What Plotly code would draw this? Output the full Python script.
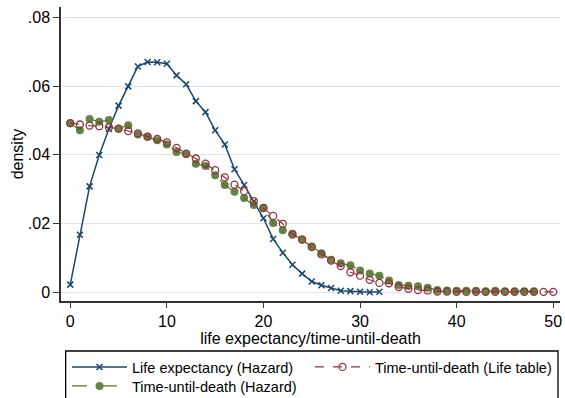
import plotly.graph_objects as go

# ---- data ----
x_le = list(range(0, 33))
y_le = [0.0022, 0.0167, 0.0308, 0.0399, 0.0475, 0.0543, 0.0599, 0.0657, 0.0670, 0.0669,
        0.0665, 0.0631, 0.0605, 0.0556, 0.0524, 0.0471, 0.0430, 0.0358, 0.0312, 0.0264,
        0.0215, 0.0155, 0.0115, 0.0080, 0.0054, 0.0031, 0.0020, 0.0012, 0.0004, 0.0003,
        0.0001, 0.0000, 0.0001]

x_lt = list(range(0, 51))
y_lt = [0.0492, 0.0488, 0.0485, 0.0483, 0.0480, 0.0476, 0.0469, 0.0462, 0.0453, 0.0446,
        0.0436, 0.0420, 0.0403, 0.0389, 0.0374, 0.0355, 0.0334, 0.0313, 0.0294, 0.0265,
        0.0245, 0.0222, 0.0199, 0.0168, 0.0153, 0.0131, 0.0110, 0.0092, 0.0076, 0.0058,
        0.0048, 0.0036, 0.0027, 0.0026, 0.0015, 0.0010, 0.0006, 0.0005, 0.0002, 0.0002,
        0.0001, 0.0001, 0.0001, 0.0001, 0.0001, 0.0001, 0.0001, 0.0001, 0.0001, 0.0001,
        0.0001]

x_hz = list(range(0, 49))
y_hz = [0.0492, 0.0471, 0.0504, 0.0496, 0.0501, 0.0476, 0.0486, 0.0459, 0.0452, 0.0442,
        0.0430, 0.0408, 0.0402, 0.0374, 0.0367, 0.0340, 0.0312, 0.0292, 0.0274, 0.0254,
        0.0245, 0.0201, 0.0180, 0.0170, 0.0153, 0.0133, 0.0113, 0.0094, 0.0084, 0.0078,
        0.0063, 0.0054, 0.0048, 0.0034, 0.0021, 0.0019, 0.0017, 0.0013, 0.0006, 0.0005,
        0.0004, 0.0004, 0.0004, 0.0003, 0.0004, 0.0003, 0.0003, 0.0003, 0.0003]

x_ticks = [0, 10, 20, 30, 40, 50]
y_ticks = [0, 0.02, 0.04, 0.06, 0.08]
y_ticktext = ["0", ".02", ".04", ".06", ".08"]

NAVY = "#1a476f"
MAROON = "#90353b"
GREEN = "#55752f"

fig = go.Figure()
fig.add_trace(go.Scatter(
    x=x_le, y=y_le, mode="lines+markers", name="Life expectancy (Hazard)",
    line=dict(color=NAVY, width=1.5),
    marker=dict(symbol="x-thin", size=6, line=dict(color=NAVY, width=1.5)),
    legend="legend", legendrank=1))
fig.add_trace(go.Scatter(
    x=x_hz, y=y_hz, mode="lines+markers", name="Time-until-death (Hazard)",
    line=dict(color=GREEN, width=1.2, dash="longdash"),
    marker=dict(symbol="circle", size=8, color=GREEN, opacity=0.9),
    legend="legend2"))
fig.add_trace(go.Scatter(
    x=x_lt, y=y_lt, mode="lines+markers", name="Time-until-death (Life table)",
    line=dict(color=MAROON, width=1.2, dash="dash"),
    marker=dict(symbol="circle-open", size=7, color=MAROON, line=dict(width=1.3)),
    legend="legend", legendrank=2))

font = "Liberation Sans, Arial, sans-serif"
H = 398

leg_common = dict(
    orientation="h", x=0.012, xanchor="left", xref="paper",
    yref="container", yanchor="top",
    entrywidth=173, entrywidthmode="pixels", itemwidth=55,
    font=dict(family=font, size=14.5, color="black"),
    bgcolor="rgba(0,0,0,0)", borderwidth=0,
)

fig.update_layout(
    width=565, height=H,
    margin=dict(l=61, r=3, t=7, b=97),
    paper_bgcolor="white", plot_bgcolor="white",
    font=dict(family=font, size=16, color="black"),
    showlegend=True,
    legend=dict(leg_common, y=1 - 351 / H),
    legend2=dict(leg_common, y=1 - 370 / H),
    xaxis=dict(
        range=[-0.96, 50.7], tickvals=x_ticks, showgrid=False, zeroline=False,
        showline=True, linecolor="#333333", linewidth=1.5,
        ticks="outside", ticklen=5, tickwidth=1.2, tickcolor="#333333",
        tickfont=dict(size=16), title=dict(text="life expectancy/time-until-death",
                                          font=dict(size=16), standoff=2),
    ),
    yaxis=dict(
        range=[-0.00257, 0.083], tickvals=y_ticks, ticktext=y_ticktext,
        showgrid=True, gridcolor="#dfe6f2", gridwidth=1, zeroline=False,
        showline=True, linecolor="#333333", linewidth=1.5,
        ticks="outside", ticklen=6, tickwidth=1.2, tickcolor="#333333",
        tickfont=dict(size=16), title=dict(text="density", font=dict(size=16), standoff=0),
    ),
    shapes=[dict(type="rect", xref="paper", yref="paper",
                 x0=(65.7 - 61) / 501, x1=(560 - 61) / 501,
                 y0=(301 - 420) / 294, y1=(301 - 351) / 294,
                 line=dict(color="black", width=1.3), fillcolor="rgba(0,0,0,0)")],
)

fig.write_html("out.html")
